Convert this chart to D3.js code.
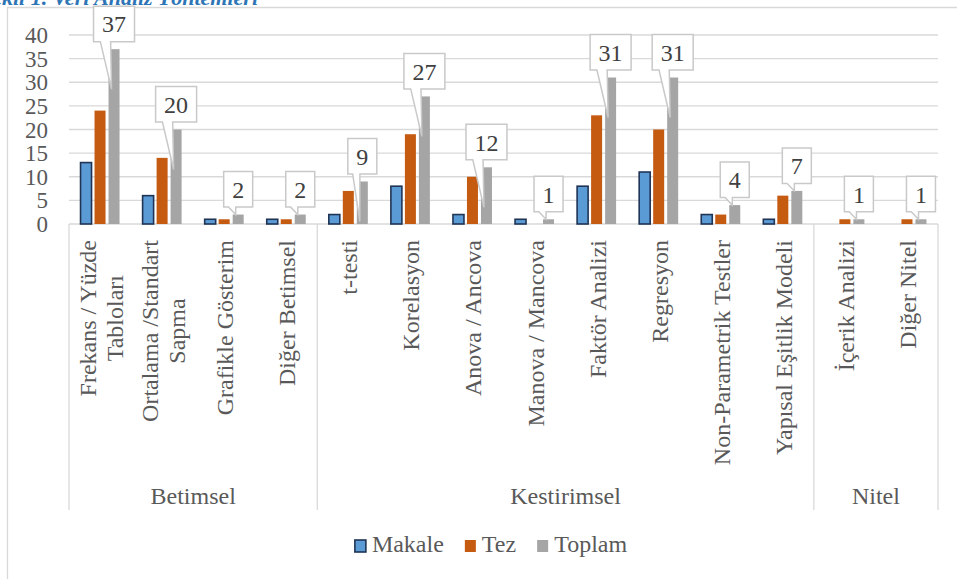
<!DOCTYPE html>
<html>
<head>
<meta charset="utf-8">
<script src="https://cdn.jsdelivr.net/npm/d3@7"></script>
<style>
  html, body { margin: 0; padding: 0; background: #fff; overflow: hidden; }
</style>
</head>
<body>
<svg id="chart" width="957" height="579"></svg>
<script>
// Analysis methods, their parent groups and counts per publication type
const categories = [
  ["Frekans / Yüzde", "Tabloları"],
  ["Ortalama /Standart", "Sapma"],
  ["Grafikle Gösterim"],
  ["Diğer Betimsel"],
  ["t-testi"],
  ["Korelasyon"],
  ["Anova / Ancova"],
  ["Manova / Mancova"],
  ["Faktör Analizi"],
  ["Regresyon"],
  ["Non-Parametrik Testler"],
  ["Yapısal Eşitlik Modeli"],
  ["İçerik Analizi"],
  ["Diğer Nitel"]
];
const groups = ["Betimsel", "Kestirimsel", "Nitel"];
const groupSizes = [4, 8, 2];
const seriesNames = ["Makale", "Tez", "Toplam"];
const makale = [13, 6, 1, 1, 2, 8, 2, 1, 8, 11, 2, 1, 0, 0];
const tez    = [24, 14, 1, 1, 7, 19, 10, 0, 23, 20, 2, 6, 1, 1];
const toplam = [37, 20, 2, 2, 9, 27, 12, 1, 31, 31, 4, 7, 1, 1];
const yTicks = [0, 5, 10, 15, 20, 25, 30, 35, 40];
const titleText = "Şekil 1. Veri Analiz Yöntemleri";

const seriesValues = [makale, tez, toplam];
const fills = ["#5b9bd5", "#c55a11", "#a5a5a5"];
const strokes = ["#1f3455", "none", "none"];
const textColor = "#595959";
const gridColor = "#d9d9d9";
const serif = "Liberation Serif";

const svg = d3.select("#chart");
const plot = { left: 69, right: 938, top: 35, bottom: 224 };

// Caption running off the top of the frame
svg.append("text")
  .attr("x", 258).attr("y", 5)
  .attr("text-anchor", "end")
  .attr("font-family", serif)
  .attr("font-size", 22).attr("font-style", "italic").attr("font-weight", "bold")
  .attr("fill", "#2e75b6")
  .text(titleText);

// Chart frame (left and top edges are visible)
svg.append("path")
  .attr("d", "M7.5,579 L7.5,7.5 L957,7.5")
  .attr("fill", "none").attr("stroke", gridColor).attr("stroke-width", 1.3);

const x = d3.scaleBand()
  .domain(d3.range(categories.length))
  .range([plot.left, plot.right])
  .padding(0);

const xs = d3.scaleBand()
  .domain(d3.range(seriesNames.length))
  .range([-19.5, 19.5])
  .paddingInner(3 / 14)
  .paddingOuter(0);

const y = d3.scaleLinear().domain([0, 40]).range([plot.bottom, plot.top]);

// Gridlines
svg.append("g").selectAll("line").data(yTicks).join("line")
  .attr("x1", plot.left).attr("x2", plot.right)
  .attr("y1", d => y(d)).attr("y2", d => y(d))
  .attr("stroke", gridColor).attr("stroke-width", 1.3);

// Y axis labels
svg.append("g").selectAll("text").data(yTicks).join("text")
  .attr("x", 48).attr("y", d => y(d) + 8)
  .attr("text-anchor", "end")
  .attr("font-family", serif)
  .attr("font-size", 23).attr("fill", textColor)
  .text(d => d);

// Bars
const center = i => x(i) + x.bandwidth() / 2;
seriesValues.forEach((vals, s) => {
  svg.append("g").selectAll("rect").data(vals).join("rect")
    .attr("x", (d, i) => center(i) + xs(s))
    .attr("width", xs.bandwidth())
    .attr("y", d => y(d))
    .attr("height", d => y(0) - y(d))
    .attr("fill", fills[s])
    .attr("stroke", strokes[s])
    .attr("stroke-width", s === 0 ? 1.6 : 0);
});

// Multi-level category axis: separator lines
const groupEdges = [0];
groupSizes.forEach(n => groupEdges.push(groupEdges[groupEdges.length - 1] + n));
const edgeX = i => i < categories.length ? x(i) : plot.right;
svg.append("g").selectAll("line").data(groupEdges).join("line")
  .attr("x1", edgeX).attr("x2", edgeX)
  .attr("y1", plot.bottom).attr("y2", 510)
  .attr("stroke", gridColor).attr("stroke-width", 1.3);

// Category labels, rotated, wrapped lines centred on each other
const labelTop = 240;
const lineGap = 27;
categories.forEach((lines, i) => {
  const g = svg.append("g");
  const texts = lines.map(t => g.append("text")
    .attr("font-family", serif)
    .attr("font-size", 24).attr("fill", textColor)
    .attr("text-anchor", "middle").text(t));
  const maxLen = d3.max(texts, t => t.node().getComputedTextLength());
  const cy = labelTop + maxLen / 2;
  texts.forEach((t, k) => {
    const bx = center(i) + 9 + (k - (lines.length - 1) / 2) * lineGap;
    t.attr("transform", `translate(${bx},${cy}) rotate(-90)`);
  });
});

// Group labels
svg.append("g").selectAll("text").data(groups).join("text")
  .attr("x", (d, k) => (edgeX(groupEdges[k]) + edgeX(groupEdges[k + 1])) / 2)
  .attr("y", 504)
  .attr("text-anchor", "middle")
  .attr("font-family", serif)
  .attr("font-size", 24).attr("fill", textColor)
  .text(d => d);

// Callout data labels for the Toplam series
const callouts = svg.append("g");
toplam.forEach((v, i) => {
  const bx = center(i) + xs(2) + xs.bandwidth() / 2;
  const top = y(v);
  const barH = y(0) - top;
  const tipX = bx - 2.5;
  const tipY = barH > 40 ? top + 40 : top;
  const t = callouts.append("text")
    .attr("font-family", serif)
    .attr("font-size", 24).attr("fill", "#404040")
    .attr("text-anchor", "middle").text(v);
  const tw = t.node().getComputedTextLength();
  const w = tw + 17, h = 35.5;
  const l = bx - w / 2, r = bx + w / 2;
  const b = top - 7.5, tp = b - h;
  const x1 = l + w * 2 / 12, x2 = l + w * 5 / 12;
  callouts.insert("path", "text")
    .attr("d", `M${l},${tp} L${r},${tp} L${r},${b} L${x2},${b} L${tipX},${tipY} L${x1},${b} L${l},${b} Z`)
    .attr("fill", "#fff").attr("stroke", "#c9c9c9").attr("stroke-width", 1.5)
    .attr("stroke-linejoin", "miter");
  t.attr("x", bx).attr("y", tp + h / 2 + 8.5);
});

// Legend
const legend = svg.append("g");
const items = seriesNames.map((name, s) => {
  const g = legend.append("g");
  g.append("rect").attr("x", 0).attr("y", -12).attr("width", 11).attr("height", 12)
    .attr("fill", fills[s]).attr("stroke", strokes[s]).attr("stroke-width", s === 0 ? 1.6 : 0);
  const t = g.append("text").attr("x", 17).attr("y", 0)
    .attr("font-family", serif)
    .attr("font-size", 24).attr("fill", textColor).text(name);
  return { g, w: 17 + t.node().getComputedTextLength() };
});
const gap = 21;
const total = d3.sum(items, d => d.w) + gap * (items.length - 1);
let lx = 491 - total / 2;
items.forEach(it => {
  it.g.attr("transform", `translate(${lx},552)`);
  lx += it.w + gap;
});
</script>
</body>
</html>
